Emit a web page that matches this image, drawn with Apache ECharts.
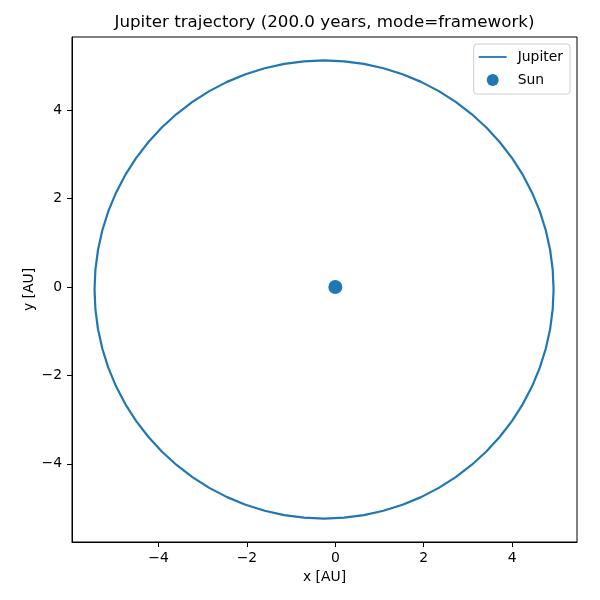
<!DOCTYPE html>
<html>
<head>
<meta charset="utf-8">
<script src="https://cdn.jsdelivr.net/npm/echarts@6/dist/echarts.min.js"></script>
<style>html,body{margin:0;padding:0;background:#fff}#c{width:600px;height:600px}</style>
</head>
<body>
<div id="c"></div>
<script>
// Jupiter orbit points (AU), every ~5 degrees around the loop
const jupiterX = [4.940, 4.920, 4.861, 4.763, 4.627, 4.453, 4.244, 4.001, 3.724, 3.418,
  3.084, 2.725, 2.343, 1.940, 1.522, 1.089, 0.647, 0.198, -0.255, -0.708,
  -1.157, -1.599, -2.032, -2.450, -2.853, -3.235, -3.594, -3.928, -4.234, -4.511,
  -4.754, -4.963, -5.137, -5.273, -5.371, -5.430, -5.450, -5.430, -5.371, -5.273,
  -5.137, -4.963, -4.754, -4.511, -4.234, -3.928, -3.594, -3.235, -2.853, -2.450,
  -2.032, -1.599, -1.157, -0.708, -0.255, 0.198, 0.647, 1.089, 1.522, 1.940,
  2.343, 2.725, 3.084, 3.418, 3.724, 4.001, 4.244, 4.453, 4.627, 4.763,
  4.861, 4.920, 4.940];
const jupiterY = [-0.055, 0.397, 0.845, 1.287, 1.718, 2.136, 2.538, 2.919, 3.278, 3.611,
  3.917, 4.193, 4.435, 4.644, 4.817, 4.953, 5.051, 5.110, 5.130, 5.110,
  5.051, 4.953, 4.817, 4.644, 4.435, 4.193, 3.917, 3.611, 3.278, 2.919,
  2.538, 2.136, 1.718, 1.287, 0.845, 0.397, -0.055, -0.507, -0.955, -1.397,
  -1.828, -2.246, -2.648, -3.029, -3.388, -3.721, -4.027, -4.303, -4.545, -4.754,
  -4.927, -5.063, -5.161, -5.220, -5.240, -5.220, -5.161, -5.063, -4.927, -4.754,
  -4.545, -4.303, -4.027, -3.721, -3.388, -3.029, -2.648, -2.246, -1.828, -1.397,
  -0.955, -0.507, -0.055];
const sunX = [0];
const sunY = [0];
const xTicks = [-4, -2, 0, 2, 4];
const yTicks = [-4, -2, 0, 2, 4];
const xRange = [-5.96, 5.47];
const yRange = [-5.77, 5.66];

const jupiterData = jupiterX.map((x, i) => [x, jupiterY[i]]);
const sunData = sunX.map((x, i) => [x, sunY[i]]);
const fmt = v => (v < 0 ? '\u2212' + Math.abs(v) : String(v));
const FONT = 'DejaVu Sans';
const blue = '#1f77b4';

const chart = echarts.init(document.getElementById('c'), null, {renderer: 'canvas'});
chart.setOption({
  animation: false,
  backgroundColor: '#fff',
  textStyle: {fontFamily: FONT, color: '#000'},
  graphic: [{
    type: 'text', x: 324.5, y: 23,
    style: {text: 'Jupiter trajectory (200.0 years, mode=framework)', font: '16.7px "DejaVu Sans"', fill: '#000', align: 'center', verticalAlign: 'middle'}
  }],
  grid: {left: 72, top: 37, width: 505, height: 505, show: true, borderColor: '#000', borderWidth: 1, backgroundColor: 'transparent'},
  legend: {
    orient: 'vertical', right: 30, top: 44,
    padding: [6, 7, 7, 5],
    itemWidth: 28, itemHeight: 12, itemGap: 9,
    borderColor: '#cccccc', borderWidth: 1, borderRadius: 3,
    backgroundColor: 'rgba(255,255,255,0.8)',
    textStyle: {fontFamily: FONT, fontSize: 13.9, color: '#000', padding: [0, 0, 0, 6]},
    data: [
      {name: 'Jupiter', icon: 'path://M0,0L28,0L28,1.8L0,1.8Z', itemStyle: {color: blue}},
      {name: 'Sun', icon: 'circle'}
    ]
  },
  xAxis: {
    type: 'value', min: xRange[0], max: xRange[1],
    name: 'x [AU]', nameLocation: 'middle', nameGap: 28, nameMoveOverlap: false,
    nameTextStyle: {fontFamily: FONT, fontSize: 13.9, color: '#000'},
    axisLine: {show: true, onZero: false, lineStyle: {color: '#000', width: 1}},
    axisTick: {show: true, length: 5, inside: false, customValues: xTicks, lineStyle: {color: '#000'}},
    axisLabel: {customValues: xTicks, formatter: fmt, fontFamily: FONT, fontSize: 13.9, color: '#000', margin: 9},
    splitLine: {show: false}
  },
  yAxis: {
    type: 'value', min: yRange[0], max: yRange[1],
    name: 'y [AU]', nameLocation: 'middle', nameGap: 36, nameRotate: 90, nameMoveOverlap: false,
    nameTextStyle: {fontFamily: FONT, fontSize: 13.9, color: '#000'},
    axisLine: {show: true, onZero: false, lineStyle: {color: '#000', width: 1}},
    axisTick: {show: true, length: 5, inside: false, customValues: yTicks, lineStyle: {color: '#000'}},
    axisLabel: {customValues: yTicks, formatter: fmt, fontFamily: FONT, fontSize: 13.9, color: '#000', margin: 10},
    splitLine: {show: false}
  },
  series: [
    {
      name: 'Jupiter', type: 'line', data: jupiterData, symbol: 'none', smooth: false,
      lineStyle: {color: blue, width: 2.2}, itemStyle: {color: blue}, z: 2
    },
    {
      name: 'Sun', type: 'scatter', data: sunData, symbol: 'circle', symbolSize: 14,
      itemStyle: {color: blue, opacity: 1}, z: 3
    }
  ]
});
</script>
</body>
</html>
